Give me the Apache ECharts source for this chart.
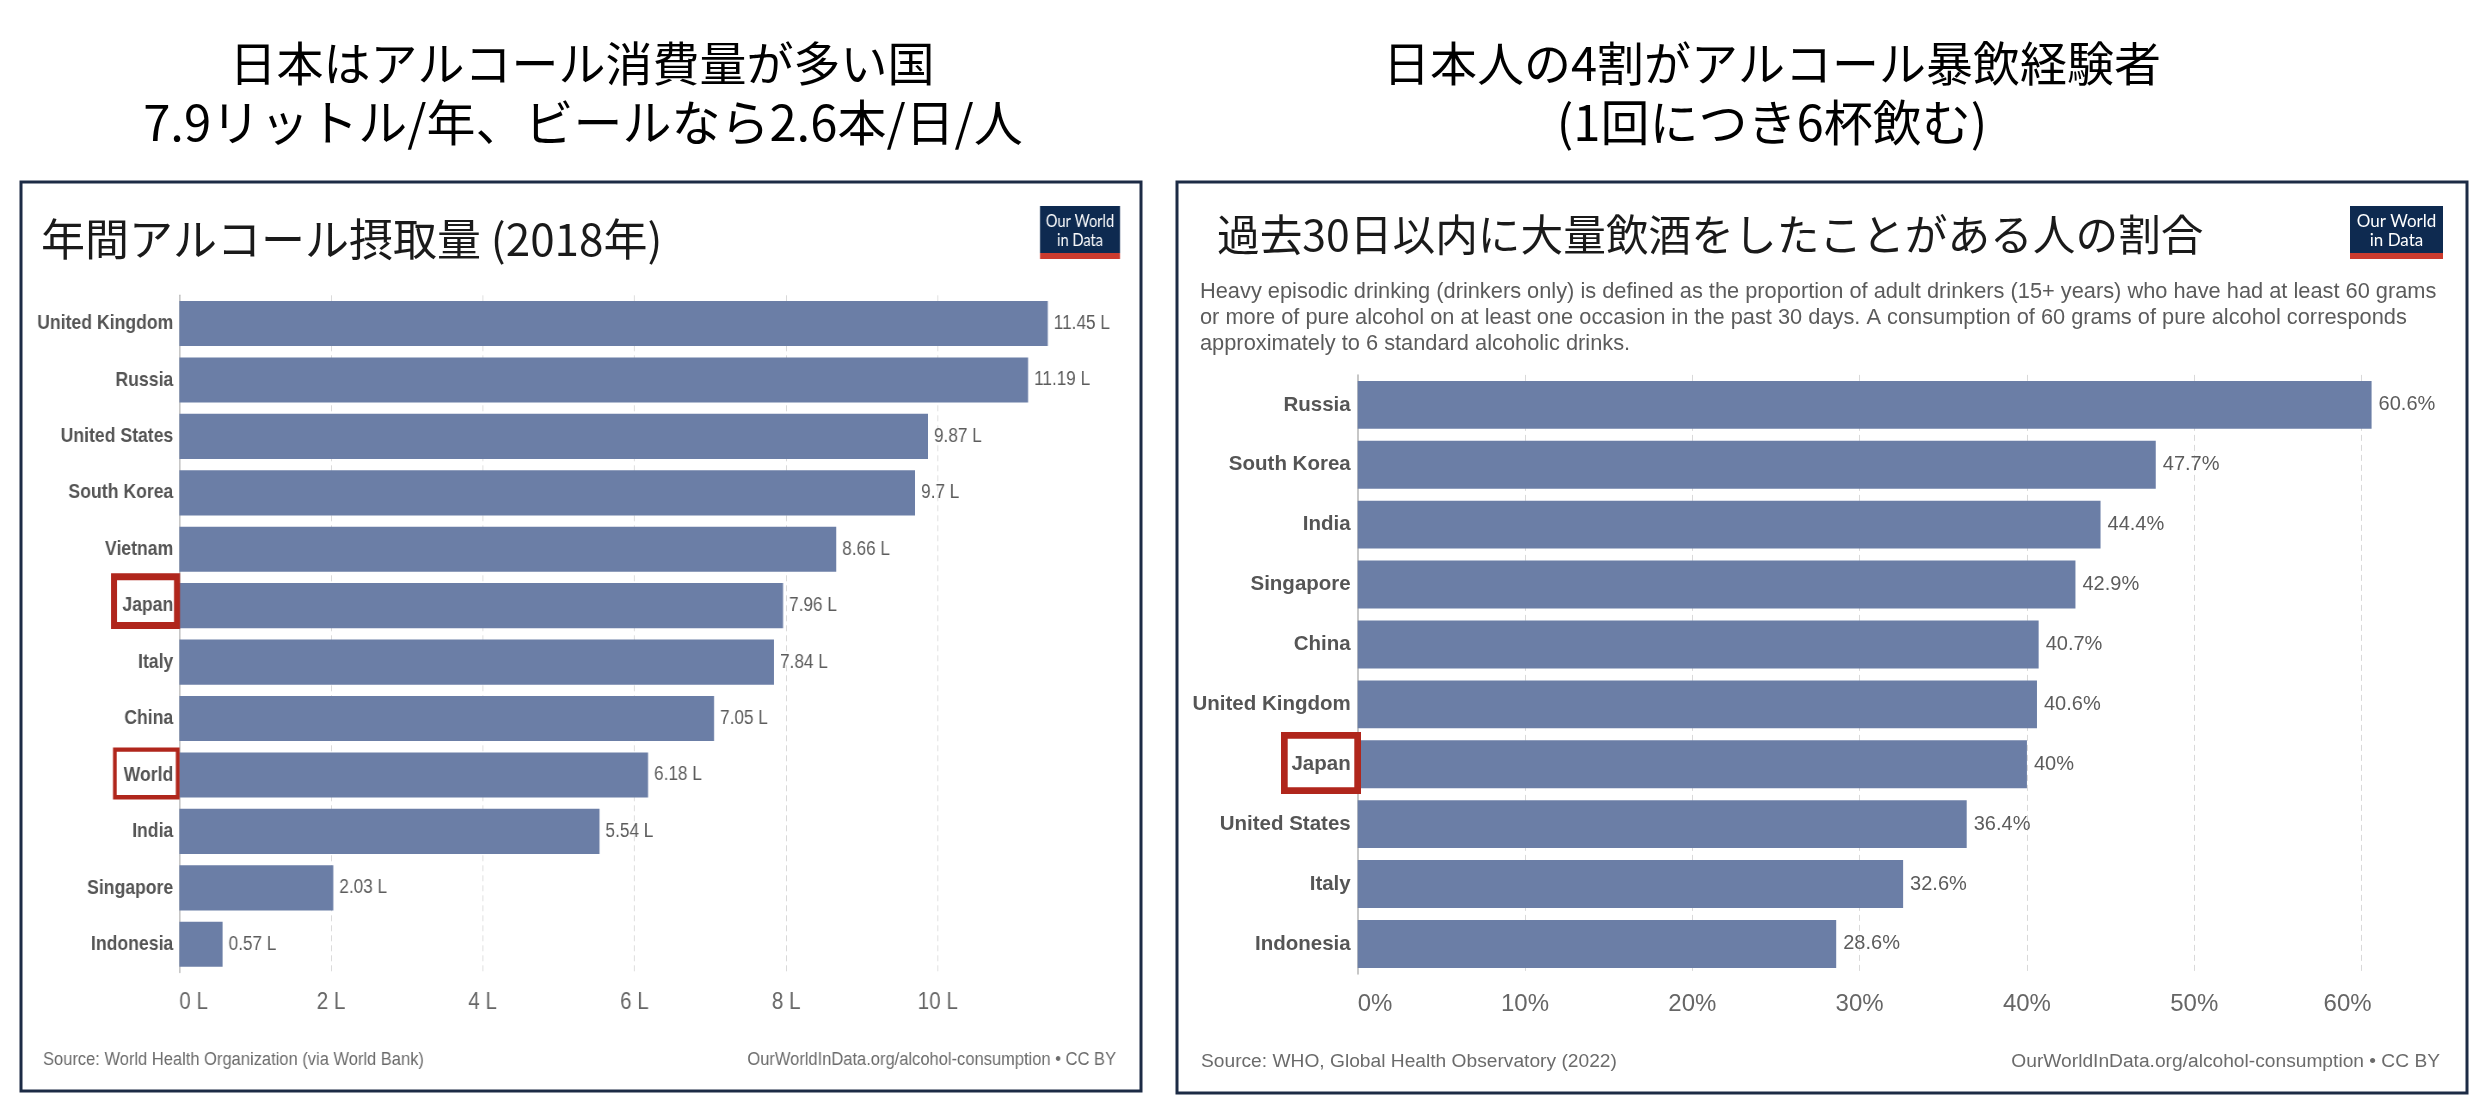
<!DOCTYPE html>
<html>
<head>
<meta charset="utf-8">
<script src="https://cdn.jsdelivr.net/npm/echarts@6/dist/echarts.min.js"></script>
<style>
html,body{margin:0;padding:0;background:#ffffff;}
#wrap{position:relative;width:2484px;height:1100px;overflow:hidden;}
#c{position:absolute;left:0;top:0;width:2484px;height:1100px;}
/* the left chart is horizontally condensed in the reference */
#l{position:absolute;left:0;top:0;width:1350px;height:1100px;transform:scaleX(0.86);transform-origin:0 0;}
</style>
</head>
<body>
<div id="wrap"><div id="c"></div><div id="l"></div></div>
<script>
// ---------- DATA ----------
const headingLeft = ['日本はアルコール消費量が多い国', '7.9リットル/年、ビールなら2.6本/日/人'];
const headingRight = ['日本人の4割がアルコール暴飲経験者', '(1回につき6杯飲む)'];
const titleLeft = '年間アルコール摂取量 (2018年)';
const titleRight = '過去30日以内に大量飲酒をしたことがある人の割合';
const subtitleRight = [
  'Heavy episodic drinking (drinkers only) is defined as the proportion of adult drinkers (15+ years) who have had at least 60 grams',
  'or more of pure alcohol on at least one occasion in the past 30 days. A consumption of 60 grams of pure alcohol corresponds',
  'approximately to 6 standard alcoholic drinks.'
];
const sourceLeft = 'Source: World Health Organization (via World Bank)';
const sourceRight = 'Source: WHO, Global Health Observatory (2022)';
const urlText = 'OurWorldInData.org/alcohol-consumption • CC BY';
const logoLines = ['Our World', 'in Data'];

const countriesLeft = ['United Kingdom', 'Russia', 'United States', 'South Korea', 'Vietnam', 'Japan',
  'Italy', 'China', 'World', 'India', 'Singapore', 'Indonesia'];
const litresLeft = [11.45, 11.19, 9.87, 9.7, 8.66, 7.96, 7.84, 7.05, 6.18, 5.54, 2.03, 0.57];
const unitLeft = ' L';
const maxLeft = 12, stepLeft = 2;

const countriesRight = ['Russia', 'South Korea', 'India', 'Singapore', 'China', 'United Kingdom',
  'Japan', 'United States', 'Italy', 'Indonesia'];
const pctRight = [60.6, 47.7, 44.4, 42.9, 40.7, 40.6, 40, 36.4, 32.6, 28.6];
const unitRight = '%';
const maxRight = 65, stepRight = 10, lastTickRight = 60;

const boxedLeft = ['Japan', 'World'];
const boxedRight = ['Japan'];

// ---------- STYLE ----------
const SQ = 0.86; // horizontal condensation of the left panel
const SANS = "'Liberation Sans', Arial, Helvetica, sans-serif";
const JP = "'Noto Sans CJK JP', 'Noto Sans', sans-serif";
const LATO = "Lato, 'Open Sans', sans-serif";
const BAR = '#6b7ea6';
const FRAME = '#1c2b45';
const RED = '#b0261c';

function txt(id, text, x, y, size, family, color, align) {
  return {
    type: 'text', id: id, x: x, y: y, z: 50,
    style: {text: text, fontSize: size, fontFamily: family, fill: color,
      textAlign: align, textVerticalAlign: 'middle', fontWeight: 'normal'}
  };
}
function logo(id, x, y, w, size) {
  return [
    {type: 'rect', id: id + 'bg', z: 40, shape: {x: x, y: y, width: w, height: 47}, style: {fill: '#0e2a50'}},
    {type: 'rect', id: id + 'red', z: 40, shape: {x: x, y: y + 47, width: w, height: 6}, style: {fill: '#cc3b2e'}},
    txt(id + 't1', logoLines[0], x + w / 2, y + 15.5, size, LATO, '#ffffff', 'center'),
    txt(id + 't2', logoLines[1], x + w / 2, y + 35, size, LATO, '#ffffff', 'center')
  ];
}
function valueAxis(max, step, unit, lastShift) {
  return {
    type: 'value', min: 0, max: max, interval: step,
    axisLine: {show: false}, axisTick: {show: false},
    splitLine: {show: true, showMinLine: false, showMaxLine: false,
      lineStyle: {type: [6, 4], color: '#d9d9d9', width: 1}},
    axisLabel: {
      formatter: v => (lastShift && v === lastShift.value) ? '{last|' + v + unit + '}' : v + unit,
      rich: {last: {padding: [0, lastShift ? lastShift.pad : 0, 0, 0], color: '#666666', fontFamily: SANS, fontSize: 24}},
      color: '#666666', fontFamily: SANS, fontSize: 24,
      margin: 18, showMaxLabel: false, alignMinLabel: 'left'}
  };
}
function catAxis(data) {
  return {
    type: 'category', data: data, inverse: true,
    axisLine: {show: true, lineStyle: {color: '#b5b5b5', width: 1.5}},
    axisTick: {show: false},
    axisLabel: {color: '#555555', fontWeight: 'bold', fontFamily: SANS, fontSize: 20.5, margin: 7}
  };
}
function barSeries(data, unit) {
  return {
    type: 'bar', data: data, barCategoryGap: '20%',
    itemStyle: {color: BAR},
    label: {show: true, position: 'right', distance: 7, formatter: p => p.value + unit,
      color: '#5c5c5c', fontFamily: SANS, fontSize: 20}
  };
}

// ---------- MAIN (unsquished) ----------
const main = echarts.init(document.getElementById('c'), null, {renderer: 'canvas'});
const gridR = {left: 1357.7, top: 374.9, width: 1087.5, height: 599};

const mainGraphics = [
  txt('hl1', headingLeft[0], 582, 63, 47, JP, '#000000', 'center'),
  txt('hl2', headingLeft[1], 583, 122, 49, JP, '#000000', 'center'),
  txt('hr1', headingRight[0], 1772, 63, 47, JP, '#000000', 'center'),
  txt('hr2', headingRight[1], 1772, 122, 49, JP, '#000000', 'center'),
  {type: 'rect', id: 'frL', z: 30, shape: {x: 21, y: 182, width: 1120, height: 909},
    style: {fill: 'none', stroke: FRAME, lineWidth: 3}},
  {type: 'rect', id: 'frR', z: 30, shape: {x: 1177, y: 182, width: 1290, height: 911},
    style: {fill: 'none', stroke: FRAME, lineWidth: 3}},
  txt('tl', titleLeft, 41, 239, 44, JP, '#1a1a1a', 'left'),
  txt('tr', titleRight, 1217, 235, 42.7, JP, '#1a1a1a', 'left'),
  txt('s1', subtitleRight[0], 1200, 292, 21.8, SANS, '#5b5b5b', 'left'),
  txt('s2', subtitleRight[1], 1200, 318, 21.8, SANS, '#5b5b5b', 'left'),
  txt('s3', subtitleRight[2], 1200, 344, 21.8, SANS, '#5b5b5b', 'left'),
  txt('fr1', sourceRight, 1201, 1062, 19.2, SANS, '#6b6b6b', 'left'),
  txt('fr2', urlText, 2440, 1062, 19.2, SANS, '#6b6b6b', 'right')
].concat(logo('lgR', 2350, 206, 93, 17));

main.setOption({
  animation: false,
  backgroundColor: '#ffffff',
  grid: [gridR],
  xAxis: [valueAxis(maxRight, stepRight, unitRight, {value: lastTickRight, pad: 28})],
  yAxis: [catAxis(countriesRight)],
  series: [barSeries(pctRight, unitRight)],
  graphic: mainGraphics
});

const boxesR = boxedRight.map((name, i) => {
  const cy = main.convertToPixel({yAxisIndex: 0}, name);
  const lw = 6.7;
  return {type: 'rect', id: 'bxR' + i, z: 60,
    shape: {x: gridR.left - 76.7 + lw / 2, y: cy - 32.3 + lw / 2, width: 80 - lw, height: 62 - lw},
    style: {fill: 'none', stroke: RED, lineWidth: lw}};
});
main.setOption({graphic: boxesR});

// ---------- LEFT (drawn in local coords, condensed by CSS scaleX) ----------
const left = echarts.init(document.getElementById('l'), null, {renderer: 'canvas'});
const gridL = {left: 179.3 / SQ, top: 295.3, width: 910.2 / SQ, height: 677.2};

left.setOption({
  animation: false,
  backgroundColor: 'transparent',
  grid: [gridL],
  xAxis: [valueAxis(maxLeft, stepLeft, unitLeft, null)],
  yAxis: [catAxis(countriesLeft)],
  series: [barSeries(litresLeft, unitLeft)],
  graphic: [
    txt('fl1', sourceLeft, 43 / SQ, 1060, 19.2, SANS, '#6b6b6b', 'left'),
    txt('fl2', urlText, 1116 / SQ, 1060, 19.2, SANS, '#6b6b6b', 'right')
  ].concat(logo('lgL', 1040 / SQ, 206, 93, 17))
});

const boxSpec = {
  Japan: {lw: 7, outL: 111, outR: 180, top: -32.5, bottom: 23.3},
  World: {lw: 4.3, outL: 113, outR: 179.5, top: -27.6, bottom: 24.4}
};
const boxesL = boxedLeft.map((name, i) => {
  const cy = left.convertToPixel({yAxisIndex: 0}, name);
  const b = boxSpec[name];
  const x0 = b.outL / SQ, x1 = b.outR / SQ;
  return {type: 'rect', id: 'bxL' + i, z: 60,
    shape: {x: x0 + b.lw / 2, y: cy + b.top + b.lw / 2, width: x1 - x0 - b.lw, height: b.bottom - b.top - b.lw},
    style: {fill: 'none', stroke: RED, lineWidth: b.lw}};
});
left.setOption({graphic: boxesL});
</script>
</body>
</html>
